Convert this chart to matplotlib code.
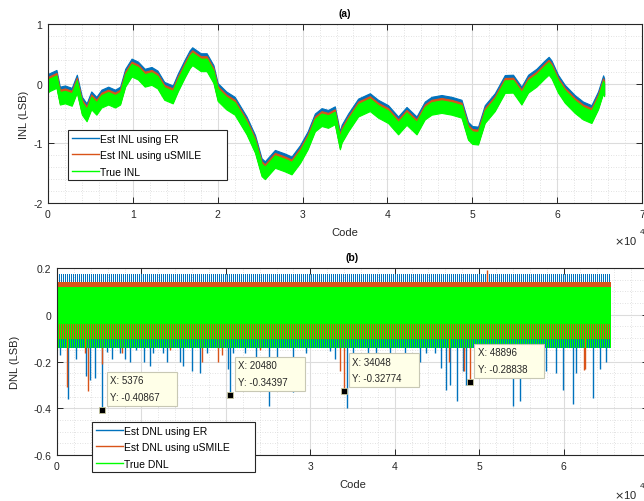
import numpy as np
import matplotlib
matplotlib.use("Agg")
from matplotlib import pyplot as plt
from matplotlib.lines import Line2D
from matplotlib.ticker import MultipleLocator

plt.rcParams['font.family'] = ['Liberation Sans', 'DejaVu Sans']
plt.rcParams['axes.unicode_minus'] = False

BLUE = '#0072BD'
ORANGE = '#D95319'
GREEN = '#00FF00'
DARK = '#262626'

# ---- (a) INL: middle of the INL band at the sampled codes ----
inl_codes = [0, 100, 1000, 1400, 2000, 2800, 3400, 4000, 4550, 5100,
             5700, 6300, 7100, 7900, 8500, 9100, 9850, 10600, 11400, 12200,
             12900, 13700, 14700, 15300, 16100, 16700, 17000, 18000, 18700, 19500,
             20000, 21000, 22000, 23400, 24400, 25170, 25560, 26740, 27900, 28700,
             29700, 30600, 31450, 32240, 33000, 33800, 34400, 34600, 35370, 36550,
             37930, 38900, 40080, 41260, 42250, 43430, 44400, 45200, 46370, 47550,
             48730, 49500, 50000, 50680, 51470, 52650, 53830, 54800, 55790, 56580,
             57560, 58540, 59000, 59330, 60100, 60900, 62070, 63050, 64040, 64820,
             65420, 65535]
inl_mid = [0.0, 0.02, 0.08, -0.2, -0.18, -0.22, 0.0, -0.37, -0.48, -0.28,
           -0.37, -0.25, -0.2, -0.25, -0.2, 0.1, 0.27, 0.22, 0.1, 0.13,
           0.07, -0.12, -0.18, 0.02, 0.25, 0.41, 0.46, 0.36, 0.36, 0.16,
           -0.14, -0.28, -0.37, -0.7, -1.01, -1.4, -1.45, -1.26, -1.32, -1.37,
           -1.18, -0.95, -0.65, -0.56, -0.59, -0.53, -0.95, -0.84, -0.65, -0.4,
           -0.31, -0.42, -0.51, -0.7, -0.54, -0.7, -0.45, -0.37, -0.34, -0.37,
           -0.42, -0.79, -0.86, -0.87, -0.51, -0.31, -0.005, 0.0, -0.2, 0.0,
           0.1, 0.24, 0.3, 0.24, 0.0, -0.17, -0.34, -0.45, -0.51, -0.28,
           -0.01, -0.06]
# spread of each curve around the band middle (top, bottom)
inl_er_band = [0.15, -0.12]
inl_us_band = [0.10, -0.13]
inl_true_band = [0.06, -0.15]

# ---- (b) DNL: band levels and the larger spikes ----
dnl_er_band = [-0.138, 0.176]
dnl_us_band = [-0.098, 0.141]
dnl_true_band = [-0.04, 0.119]
dnl_true_low = -0.138

er_spike_codes = [355, 1340, 2250, 3430, 3900, 4500, 5376, 5880, 6550, 7460,
                  8050, 8640, 9350, 10300, 11000, 11400, 12580, 12980, 14560, 14870,
                  15940, 16920, 17710, 20280, 20480, 20870, 22250, 23600, 25130, 26000,
                  27970, 29550, 32300, 32900, 34360, 35070, 36840, 37830, 39410, 41180,
                  42960, 43750, 44730, 45520, 46120, 46500, 47370, 48080, 48460, 54000,
                  54790, 55980, 57160, 57950, 59130, 59920, 61100, 61500, 63470, 64260,
                  65050]
er_spike_vals = [-0.17, -0.36, -0.19, -0.26, -0.28, -0.27, -0.40867, -0.16, -0.19, -0.165,
                 -0.19, -0.2, -0.15, -0.2, -0.22, -0.165, -0.165, -0.2, -0.2, -0.22,
                 -0.24, -0.25, -0.165, -0.23, -0.34397, -0.165, -0.165, -0.18, -0.39, -0.2,
                 -0.33, -0.165, -0.154, -0.19, -0.4, -0.18, -0.17, -0.22, -0.18, -0.2,
                 -0.2, -0.165, -0.165, -0.226, -0.32, -0.3, -0.369, -0.24, -0.3, -0.39,
                 -0.369, -0.2, -0.24, -0.24, -0.25, -0.32, -0.383, -0.25, -0.355, -0.23,
                 -0.2]
us_spike_codes = [1150, 3300, 3710, 5290, 7660, 13370, 17140, 19090, 19490, 24020,
                  33490, 34048, 46470, 48240, 48896, 50960, 62400, 62500]
us_spike_vals = [-0.31, -0.165, -0.325, -0.21, -0.165, -0.15, -0.2, -0.2, -0.17, -0.15,
                 -0.24, -0.32774, -0.2, -0.24, -0.28838, 0.19, -0.235, -0.233]

tip_codes = [5376, 20480, 34048, 48896]
tip_vals = [-0.40867, -0.34397, -0.32774, -0.28838]

fig = plt.figure(figsize=(6.44, 5.02), dpi=100)
ax1 = fig.add_axes([0.0745, 0.5936, 0.9224, 0.3566])
ax2 = fig.add_axes([0.0885, 0.0916, 0.9177, 0.3725])


def matlab_style(ax, yminor):
    ax.set_xlim(0, 7e4)
    ax.set_xticks(np.arange(0, 7.1e4, 1e4))
    ax.xaxis.set_minor_locator(MultipleLocator(2000))
    ax.yaxis.set_minor_locator(MultipleLocator(yminor))
    ax.grid(True, which='major', color='#dcdcdc', lw=0.8)
    ax.grid(True, which='minor', color='#d8d8d8', lw=0.6, ls=(0, (1, 2)))
    ax.set_axisbelow(True)
    ax.tick_params(which='major', direction='in', top=True, right=True,
                   length=4, width=0.7, labelsize=7.5, colors=DARK, pad=4)
    ax.tick_params(which='minor', length=0)
    for s in ax.spines.values():
        s.set_color(DARK)
        s.set_linewidth(0.8)


def add_legend(ax, labels, box):
    x0, y0, x1, y1 = box
    handles = [Line2D([], [], color=c, lw=1) for c in (BLUE, ORANGE, GREEN)]
    leg = ax.legend(handles, labels, loc='upper left', mode='expand',
                    bbox_to_anchor=(x0 / 644, 1 - y1 / 502, (x1 - x0) / 644, (y1 - y0) / 502),
                    bbox_transform=fig.transFigure, borderaxespad=0, fontsize=7.5,
                    handlelength=2.6, handletextpad=0.15, labelspacing=0.62, borderpad=0.35,
                    fancybox=False, framealpha=1, edgecolor=DARK)
    leg.get_frame().set_linewidth(0.8)
    leg.set_zorder(10)
    return leg


# ---------------- (a) ----------------
mid = np.array(inl_mid)
for band, col in [(inl_er_band, BLUE), (inl_us_band, ORANGE), (inl_true_band, GREEN)]:
    ax1.fill_between(inl_codes, mid + band[1], mid + band[0], color=col, lw=0.8,
                     edgecolor=col)

matlab_style(ax1, 0.2)
ax1.set_xticklabels([str(i) for i in range(8)])
ax1.set_ylim(-2, 1)
ax1.set_yticks([-2, -1, 0, 1])
ax1.set_title('(a)', fontsize=7.5, fontweight='bold', pad=6, color='black')
ax1.set_xlabel('Code', fontsize=8, labelpad=6, color=DARK)
ax1.set_ylabel('INL (LSB)', fontsize=8, labelpad=3, color=DARK)
add_legend(ax1, ['Est INL using ER', 'Est INL using uSMILE', 'True INL'],
           (68, 131, 227, 183))

# ---------------- (b) ----------------
# interleaved 1 px strokes two pixels apart: column A carries ER, column B the true DNL
codes_per_px = 7e4 / (ax2.get_position().width * fig.get_figwidth() * fig.dpi)
col_a = np.arange(0, 65536, 2 * codes_per_px) + 0.5 * codes_per_px
col_b = col_a + codes_per_px
ax2.vlines(col_a, dnl_er_band[0], dnl_er_band[1], color=BLUE, lw=0.5, antialiased=False)
ax2.vlines(er_spike_codes, 0, er_spike_vals, color=BLUE, lw=1.0)
ax2.vlines(np.concatenate([col_a, col_b]), dnl_us_band[0], dnl_us_band[1], color=ORANGE,
           lw=0.5, antialiased=False)
ax2.vlines(us_spike_codes, 0, us_spike_vals, color=ORANGE, lw=1.0)
ax2.vlines(col_b, dnl_true_low, dnl_true_band[1], color=GREEN, lw=0.5, antialiased=False)
ax2.fill_between([0, 65535], dnl_true_band[0], dnl_true_band[1], color=GREEN, lw=0,
                 zorder=2.5)

matlab_style(ax2, 0.05)
# 1 and 2 sit under the legend, 7 falls past the figure edge
ax2.set_xticklabels(['0', '', '', '3', '4', '5', '6', ''])
ax2.set_ylim(-0.6, 0.2)
ax2.set_yticks([-0.6, -0.4, -0.2, 0, 0.2])
ax2.set_yticklabels(['-0.6', '-0.4', '-0.2', '0', '0.2'])
ax2.set_title('(b)', fontsize=7.5, fontweight='bold', pad=6, color='black')
ax2.set_xlabel('Code', fontsize=8, labelpad=6, color=DARK)
ax2.set_ylabel('DNL (LSB)', fontsize=8, labelpad=10, color=DARK)

for c, v in zip(tip_codes, tip_vals):
    ax2.plot(c, v, 's', color='black', ms=4.5, mec='#c8c8a0', mew=0.6, zorder=6)
    ax2.annotate('X: %d\nY: %.5f     ' % (c, v), (c, v), xytext=(8, 8),
                 textcoords='offset pixels', ha='left', va='bottom', fontsize=7,
                 linespacing=1.85, color=DARK, zorder=7,
                 bbox=dict(boxstyle='square,pad=0.35', fc='#FFFFE8', ec='#c8c8b4', lw=0.8))

add_legend(ax2, ['Est DNL using ER', 'Est DNL using uSMILE', 'True DNL'],
           (92, 423, 255, 476))

# axis multipliers
fig.text(614 / 644, 1 - 241 / 502, r'$\times$10', fontsize=8, color=DARK, va='center')
fig.text(640 / 644, 1 - 233 / 502, '4', fontsize=6, color=DARK, va='center')
fig.text(614 / 644, 1 - 495 / 502, r'$\times$10', fontsize=8, color=DARK, va='center')
fig.text(640 / 644, 1 - 487 / 502, '4', fontsize=6, color=DARK, va='center')

fig.savefig('out.png', dpi=100)
